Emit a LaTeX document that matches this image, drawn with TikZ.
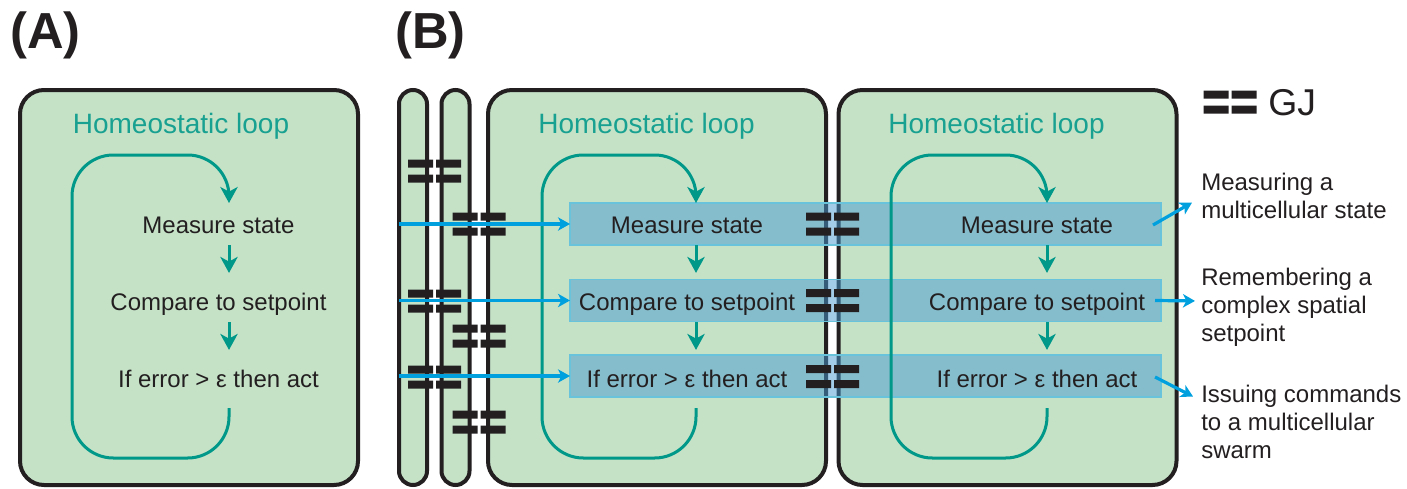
\documentclass[tikz,border=0pt]{standalone}
\usepackage{fontspec}
\setmainfont{Liberation Sans}
\usetikzlibrary{arrows.meta, positioning, calc}

\definecolor{cellgreen}{RGB}{197,226,199}
\definecolor{edge}{RGB}{35,31,32}
\definecolor{loopteal}{RGB}{0,152,136}
\definecolor{titleteal}{RGB}{24,160,144}
\definecolor{bandblue}{RGB}{71,154,209}
\definecolor{bandedge}{RGB}{105,195,218}
\definecolor{gjblue}{RGB}{0,160,222}

\tikzset{
  gj/.pic={
    \fill[edge] (-26.5,-11.5) rectangle (-1.5,-3.5)
                (1.5,-11.5) rectangle (26.5,-3.5)
                (-26.5,3.5) rectangle (-1.5,11.5)
                (1.5,3.5) rectangle (26.5,11.5);
  }
}

\begin{document}
\begin{tikzpicture}[
  x=0.75pt, y=-0.75pt,
  cell/.style={draw=edge, fill=cellgreen, line width=3pt, rounded corners=18pt,
               inner sep=0pt, outer sep=0pt,
               minimum width=253.5pt, minimum height=296.25pt},
  thincell/.style={cell, rounded corners=10.5pt, minimum width=21pt},
  band/.style={draw=bandedge, line width=0.9pt, fill=bandblue, fill opacity=0.5,
               inner sep=0pt, outer sep=0pt,
               minimum width=443.25pt, minimum height=31.5pt},
  steptext/.style={font=\fontsize{18}{21}\selectfont, text=edge, anchor=base,
                   inner sep=0pt, outer sep=0pt, text height=13pt, text depth=0pt},
  title/.style={font=\fontsize{21}{24}\selectfont, text=titleteal, anchor=base, inner sep=0pt},
  panel/.style={font=\fontsize{38}{42}\selectfont\bfseries, text=edge, anchor=base west, inner sep=0pt},
  note/.style={font=\fontsize{18}{21}\selectfont, text=edge, align=left,
               anchor=north west, inner sep=0pt},
  loopline/.style={draw=loopteal, line width=2.25pt, rounded corners=31pt,
                   -{Stealth[length=12pt, width=13pt, inset=3.5pt]}},
  steparrow/.style={draw=loopteal, line width=2.25pt,
                    -{Stealth[length=12pt, width=13pt, inset=3.5pt]},
                    shorten <=9pt, shorten >=14.8pt},
  inarrow/.style={draw=gjblue, line width=2.4pt,
                  -{Stealth[length=9pt, width=10pt, inset=2.5pt]}},
  outarrow/.style={inarrow}
]
\useasboundingbox (0,0) rectangle (1407,489);

% --- Panel labels ---
\node[panel] (labA) at (10,48) {(A)};
\node[panel] (labB) at (395,48) {(B)};

% --- Cells ---
\node[cell] (cellA) at (189,287.5) {};
\node[thincell] (thin1) at (413,287.5) {};
\node[thincell] (thin2) at (455.5,287.5) {};
\node[cell] (cellB) at (657,287.5) {};
\node[cell] (cellC) at (1007.5,287.5) {};

% --- Bands across the coupled cells ---
\node[band] (band1) at (865.5,224) {};
\node[band] (band2) at (865.5,300.5) {};
\node[band] (band3) at (865.5,376) {};

% --- Titles ---
\node[title] (titleA) at (181,133) {Homeostatic loop};
\node[title] (titleB) at (646.5,133) {Homeostatic loop};
\node[title] (titleC) at (996.5,133) {Homeostatic loop};

% --- Loops and steps ---
\foreach \nm/\cx/\xl/\xr in {A/218.5/72/229, B/687/542/696, C/1037/891/1047} {
  \coordinate (r\nm) at (\xr,0);
  \draw[loopline] (\xr,408) -- (\xr,458) -- (\xl,458) -- (\xl,155) -- (\xr,155) -- (\xr,203);
  \node[steptext] (ms\nm) at (\cx,233) {Measure state};
  \node[steptext] (cp\nm) at (\cx,310) {Compare to setpoint};
  \node[steptext] (ie\nm) at (\cx,387) {If error > ε then act};
  \draw[steparrow] (ms\nm.south -| r\nm) -- (cp\nm.north -| r\nm);
  \draw[steparrow] (cp\nm.south -| r\nm) -- (ie\nm.north -| r\nm);
}

% --- Gap junctions ---
\foreach \yy in {171,301,377} \pic at (434.5,\yy) {gj};
\foreach \yy in {224,336,422} \pic at (479,\yy) {gj};
\foreach \yy in {224,300.5,376.5} \pic at (832.5,\yy) {gj};

% --- Legend ---
\pic at (1230,102) {gj};
\node[font=\fontsize{28}{30}\selectfont, text=edge, anchor=base west, inner sep=0pt] (gjlabel) at (1268,115) {GJ};

% --- Inputs ---
\foreach \b in {1,2,3}
  \draw[inarrow] (thin1.west |- band\b.west) -- (band\b.west);

% --- Outputs ---
\node[note] (note1) at (1201,172.5) {Measuring a\\multicellular state};
\node[note] (note2) at (1201,267.5) {Remembering a\\complex spatial\\setpoint};
\node[note] (note3) at (1201,384.5) {Issuing commands\\to a multicellular\\swarm};

\draw[outarrow] ($(band1.east)+(-8,1)$) -- ($(note1.west)+(-9,7)$);
\draw[outarrow] ($(band2.east)+(-6,0)$) -- ($(note2.west)+(-6,-6)$);
\draw[outarrow] ($(band3.east)+(-6,1)$) -- ($(note3.north west)+(-8,12)$);

\end{tikzpicture}
\end{document}
